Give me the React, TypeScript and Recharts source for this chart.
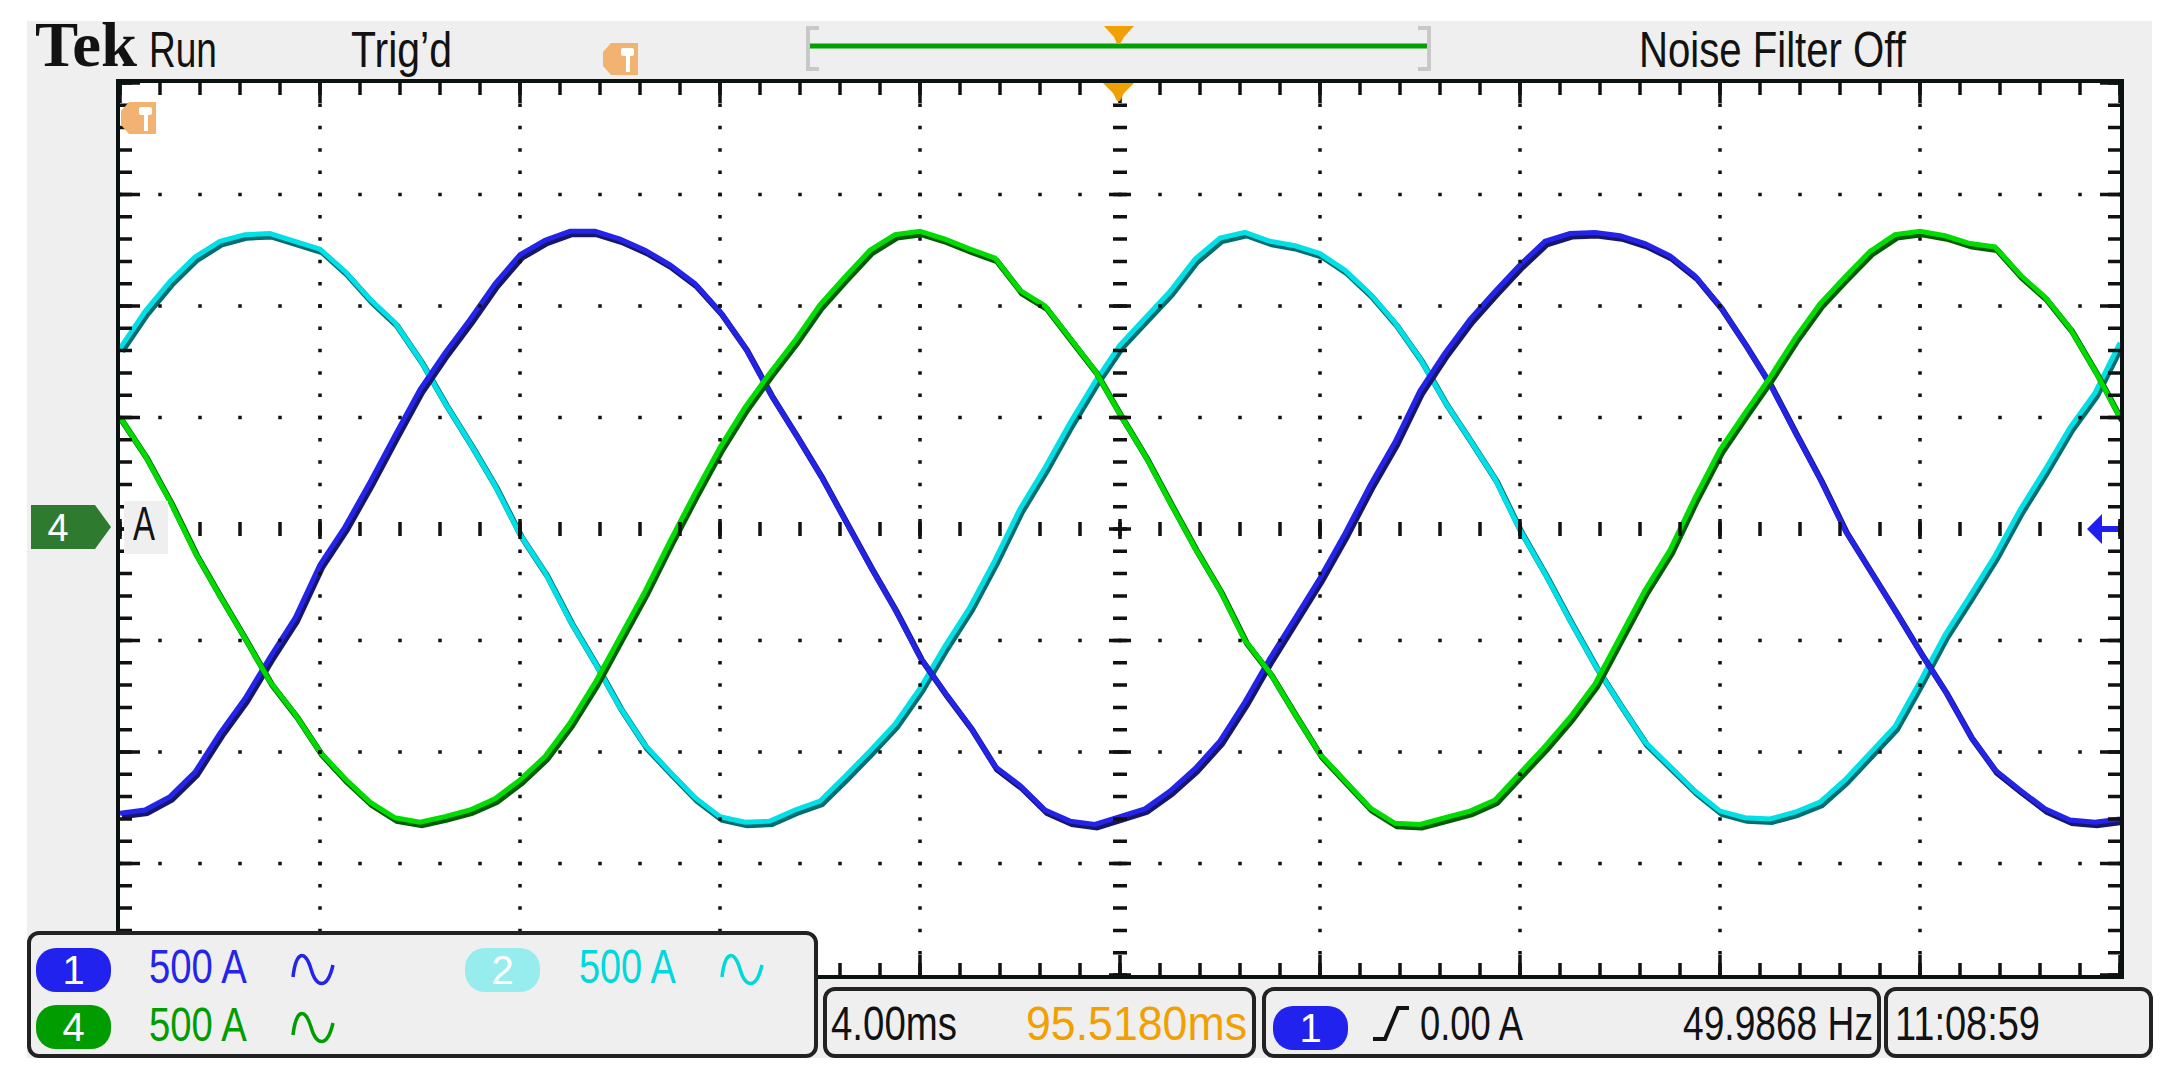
import { LineChart, Line, XAxis, YAxis, ReferenceLine } from "recharts"

// time base: 4 ms/div, 10 divisions
const timeMs = [
  0, 0.5, 1, 1.5, 2, 2.5, 3, 3.5, 4, 4.5, 5, 5.5, 6, 6.5, 7, 7.5, 8, 8.5, 9, 9.5,
  10, 10.5, 11, 11.5, 12, 12.5, 13, 13.5, 14, 14.5, 15, 15.5, 16, 16.5, 17, 17.5, 18, 18.5, 19, 19.5,
  20, 20.5, 21, 21.5, 22, 22.5, 23, 23.5, 24, 24.5, 25, 25.5, 26, 26.5, 27, 27.5, 28, 28.5, 29, 29.5,
  30, 30.5, 31, 31.5, 32, 32.5, 33, 33.5, 34, 34.5, 35, 35.5, 36, 36.5, 37, 37.5, 38, 38.5, 39, 39.5,
  40,
]

// channel 1 (blue), amps
const ch1 = [
  -1275, -1260, -1200, -1090, -915, -760, -575, -400, -160, 10, 210, 420, 625, 790, 940, 1100, 1230,
  1295, 1335, 1335, 1300, 1250, 1185, 1100, 975, 815, 610, 430, 245, 40, -165, -360, -575,
  -735, -885, -1065, -1150, -1260, -1310, -1325, -1290, -1255, -1175, -1075, -950, -775, -580, -400, -220,
  -20, 195, 390, 620, 790, 940, 1065, 1185, 1290, 1325, 1330, 1315, 1280, 1225, 1135, 1000,
  830, 650, 435, 225, -5, -185, -365, -550, -725, -925, -1080, -1170, -1255, -1305, -1315, -1300,
]

// channel 2 (cyan)
const ch2 = [
  810, 975, 1110, 1220, 1290, 1320, 1325, 1290, 1255, 1155, 1030, 925, 760, 565, 385, 195, -25,
  -195, -410, -600, -800, -970, -1090, -1205, -1290, -1315, -1310, -1260, -1220, -1110, -995, -875, -715,
  -525, -350, -140, 90, 275, 475, 660, 825, 945, 1065, 1210, 1305, 1330, 1290, 1270, 1235,
  1160, 1055, 925, 765, 570, 400, 225, -5, -200, -410, -610, -785, -955, -1065, -1175, -1265,
  -1295, -1300, -1270, -1225, -1125, -1005, -885, -685, -475, -300, -120, 85, 265, 455, 610, 835,
]

// channel 4 (green)
const ch4 = [
  500, 330, 125, -105, -300, -490, -685, -830, -1000, -1120, -1225, -1295, -1315, -1290, -1260, -1210, -1125,
  -1020, -870, -690, -485, -280, -55, 160, 365, 545, 700, 845, 1005, 1130, 1250, 1320, 1335,
  1300, 1255, 1215, 1070, 1000, 855, 710, 515, 330, 120, -85, -275, -500, -645, -830, -1010,
  -1130, -1250, -1320, -1325, -1295, -1265, -1215, -1095, -975, -845, -695, -485, -275, -95, 140, 355,
  520, 680, 855, 1010, 1130, 1245, 1320, 1335, 1315, 1280, 1265, 1140, 1040, 900, 710, 500,
]

const gridTimes = [4, 8, 12, 16, 24, 28, 32, 36]
const gridAmps = [-1500, -1000, -500, 500, 1000, 1500]

const rows = timeMs.map((t, i) => ({ t, ch1: ch1[i], ch2: ch2[i], ch4: ch4[i] }))

const PLOT = { x: 120, y: 83, w: 2000, h: 892 }
const SCOPE_FONT = "'Liberation Sans', Arial, sans-serif"
const INK = "#121212"

const traces = [
  { key: "ch2", dark: "#006d70", bright: "#00e0e6" },
  { key: "ch1", dark: "#16166e", bright: "#2424e8" },
  { key: "ch4", dark: "#005c00", bright: "#00dc00" },
]

// the scope font is tall and narrow, so squeeze a normal sans to the measured width
let ctx: CanvasRenderingContext2D | null = null
function natural(s: string, size: number, family: string, weight = "normal") {
  if (!ctx) ctx = document.createElement("canvas").getContext("2d")
  if (!ctx) return s.length * size * 0.55
  ctx.font = `${weight} ${size}px ${family}`
  return ctx.measureText(s).width
}

function ScopeText({ x, y, w, fill = INK, size = 50, family = SCOPE_FONT, weight = "normal", children }: any) {
  const sx = w / natural(children, size, family, weight)
  return (
    <text transform={`translate(${x},${y}) scale(${sx},1)`} fontSize={size} fontFamily={family} fontWeight={weight} fill={fill}>
      {children}
    </text>
  )
}

function Pill({ x, y, fill, label }: any) {
  return (
    <g>
      <rect x={x} y={y} width={75} height={44} rx={20} fill={fill} />
      <text x={x + 37.5} y={y + 36} fontSize={40} fontFamily={SCOPE_FONT} fill="#fff" textAnchor="middle">
        {label}
      </text>
    </g>
  )
}

function Wave({ x, y, color }: any) {
  return (
    <path
      d={`M${x},${y + 24} C${x + 3},${y - 2} ${x + 12},${y - 4} ${x + 18},${y + 16} C${x + 23},${y + 34} ${x + 34},${y + 38} ${x + 40},${y + 12}`}
      fill="none"
      stroke={color}
      strokeWidth={3.5}
    />
  )
}

function TrigTag({ x, y }: any) {
  return (
    <g transform={`translate(${x},${y})`}>
      <path d="M8,0 H35 V32 H8 L0,23 V9 Z" fill="#f2b372" />
      <rect x={18} y={5} width={13} height={8} rx={2} fill="#fff" />
      <rect x={23} y={12} width={4} height={17} fill="#fff" />
    </g>
  )
}

function Background() {
  return (
    <svg width={2179} height={1084} style={{ position: "absolute", left: 0, top: 0 }}>
      <rect x={0} y={0} width={2179} height={1084} fill="#fff" />
      <rect x={27} y={21} width={2125} height={1037} fill="#efefef" />
      <ScopeText x={35} y={66} w={102} size={64} weight="bold" family="'Liberation Serif', 'Times New Roman', serif">Tek</ScopeText>
      <ScopeText x={149} y={67} w={68}>Run</ScopeText>
      <ScopeText x={351} y={67} w={101}>Trig’d</ScopeText>
      <ScopeText x={1639} y={67} w={267}>Noise Filter Off</ScopeText>
      <TrigTag x={603} y={43} />
      <path d="M819,28 H808 V69 H819" fill="none" stroke="#c8c8c8" strokeWidth={4} />
      <path d="M1418,28 H1429 V69 H1418" fill="none" stroke="#c8c8c8" strokeWidth={4} />
      <line x1={810} y1={46} x2={1427} y2={46} stroke="#00a000" strokeWidth={5} />
      <path d="M1104,26 H1134 L1124,37 L1120,44 L1117,44 L1114,37 Z" fill="#f0a000" />
      <rect x={PLOT.x - 2} y={PLOT.y - 2} width={PLOT.w + 4} height={PLOT.h + 4} fill="#fff" stroke="#0b1212" strokeWidth={4} />
    </svg>
  )
}

function Foreground() {
  return (
    <svg width={2179} height={1084} style={{ position: "absolute", left: 0, top: 0, pointerEvents: "none" }}>
      {/* markers */}
      <TrigTag x={121} y={102} />
      <path d="M1103,83 H1134 L1124,93 L1120,101 L1117,101 L1113,93 Z" fill="#f0a000" />
      <path d="M31,505 H95 L111,527 L95,549 H31 Z" fill="#2e7b30" />
      <text x={58} y={541} fontSize={38} fontFamily={SCOPE_FONT} fill="#fff" textAnchor="middle">4</text>
      <rect x={124} y={501} width={44} height={53} fill="#efefef" />
      <ScopeText x={133} y={540} w={22} size={48}>A</ScopeText>
      <path d="M2087,529 L2102,514 V526 H2118 V532 H2102 V544 Z" fill="#2020ee" />

      {/* channel readout */}
      <rect x={29} y={933} width={787} height={123} rx={10} fill="#efefef" stroke="#222" strokeWidth={4} />
      <Pill x={36} y={948} fill="#2222ee" label="1" />
      <ScopeText x={149} y={983} w={100} size={48} fill="#2525e8">500 A</ScopeText>
      <Wave x={293} y={953} color="#2525e8" />
      <Pill x={465} y={948} fill="#97eded" label="2" />
      <ScopeText x={579} y={983} w={99} size={48} fill="#00d8dc">500 A</ScopeText>
      <Wave x={722} y={953} color="#00d8dc" />
      <Pill x={36} y={1005} fill="#009c00" label="4" />
      <ScopeText x={149} y={1041} w={100} size={48} fill="#009c00">500 A</ScopeText>
      <Wave x={293} y={1011} color="#009c00" />

      {/* horizontal readout */}
      <rect x={825} y={989} width={429} height={67} rx={10} fill="#efefef" stroke="#222" strokeWidth={4} />
      <ScopeText x={831} y={1040} w={126} size={48}>4.00ms</ScopeText>
      <ScopeText x={1026} y={1040} w={221} size={48} fill="#f0a000">95.5180ms</ScopeText>

      {/* trigger readout */}
      <rect x={1264} y={989} width={615} height={67} rx={10} fill="#efefef" stroke="#222" strokeWidth={4} />
      <Pill x={1273} y={1006} fill="#2222ee" label="1" />
      <path d="M1373,1039 H1385 L1398,1008 H1409" fill="none" stroke={INK} strokeWidth={4} />
      <ScopeText x={1420} y={1040} w={105} size={48}>0.00 A</ScopeText>
      <ScopeText x={1683} y={1040} w={190} size={48}>49.9868 Hz</ScopeText>

      {/* clock */}
      <rect x={1886} y={989} width={265} height={67} rx={10} fill="#efefef" stroke="#222" strokeWidth={4} />
      <ScopeText x={1895} y={1040} w={145} size={48}>11:08:59</ScopeText>
    </svg>
  )
}

export default function App() {
  const dot = "3.5"
  return (
    <div style={{ position: "absolute", left: 0, top: 0, width: 2179, height: 1084, overflow: "hidden", background: "#fff" }}>
      <style>{".echo path { transform: translate(2px, 3px); }"}</style>
      <Background />
      <div style={{ position: "absolute", left: PLOT.x, top: PLOT.y, width: PLOT.w, height: PLOT.h, overflow: "hidden" }}>
        <LineChart width={PLOT.w} height={PLOT.h} data={rows} margin={{ top: 0, right: 0, bottom: 0, left: 0 }}>
          <XAxis type="number" dataKey="t" domain={[0, 40]} hide />
          <YAxis type="number" domain={[-2000, 2000]} hide />

          {traces.map((tr) => [
            <Line key={tr.key + "-d"} className="echo" type="linear" dataKey={tr.key} stroke={tr.dark} strokeWidth={6} dot={false} activeDot={false} isAnimationActive={false} />,
            <Line key={tr.key + "-b"} type="linear" dataKey={tr.key} stroke={tr.bright} strokeWidth={5} dot={false} activeDot={false} isAnimationActive={false} />,
          ])}

          {/* dotted graticule */}
          {gridTimes.map((t) => (
            <ReferenceLine key={"gx" + t} x={t} ifOverflow="visible" stroke="#111" strokeWidth={3.5} strokeDasharray={`${dot} 18.8`} strokeDashoffset={1.75} />
          ))}
          {gridAmps.map((a) => (
            <ReferenceLine key={"gy" + a} y={a} ifOverflow="visible" stroke="#111" strokeWidth={3.5} strokeDasharray={`${dot} 36.5`} strokeDashoffset={1.75} />
          ))}

          {/* centre crosshair ticks */}
          <ReferenceLine x={20} ifOverflow="visible" stroke="#111" strokeWidth={14} strokeDasharray={`${dot} 18.8`} strokeDashoffset={1.75} />
          <ReferenceLine x={20} ifOverflow="visible" stroke="#111" strokeWidth={22} strokeDasharray={`${dot} 108`} strokeDashoffset={1.75} />
          <ReferenceLine y={0} ifOverflow="visible" stroke="#111" strokeWidth={14} strokeDasharray={`${dot} 36.5`} strokeDashoffset={1.75} />
          <ReferenceLine y={0} ifOverflow="visible" stroke="#111" strokeWidth={20} strokeDasharray={`${dot} 196.5`} strokeDashoffset={1.75} />

          {/* edge ticks */}
          {[0, 40].map((t) => [
            <ReferenceLine key={"ex" + t} x={t} ifOverflow="visible" stroke="#111" strokeWidth={24} strokeDasharray={`${dot} 18.8`} strokeDashoffset={1.75} />,
            <ReferenceLine key={"exm" + t} x={t} ifOverflow="visible" stroke="#111" strokeWidth={40} strokeDasharray={`${dot} 108`} strokeDashoffset={1.75} />,
          ])}
          {[-2000, 2000].map((a) => [
            <ReferenceLine key={"ey" + a} y={a} ifOverflow="visible" stroke="#111" strokeWidth={24} strokeDasharray={`${dot} 36.5`} strokeDashoffset={1.75} />,
            <ReferenceLine key={"eym" + a} y={a} ifOverflow="visible" stroke="#111" strokeWidth={40} strokeDasharray={`${dot} 196.5`} strokeDashoffset={1.75} />,
          ])}
        </LineChart>
      </div>
      <Foreground />
    </div>
  )
}
